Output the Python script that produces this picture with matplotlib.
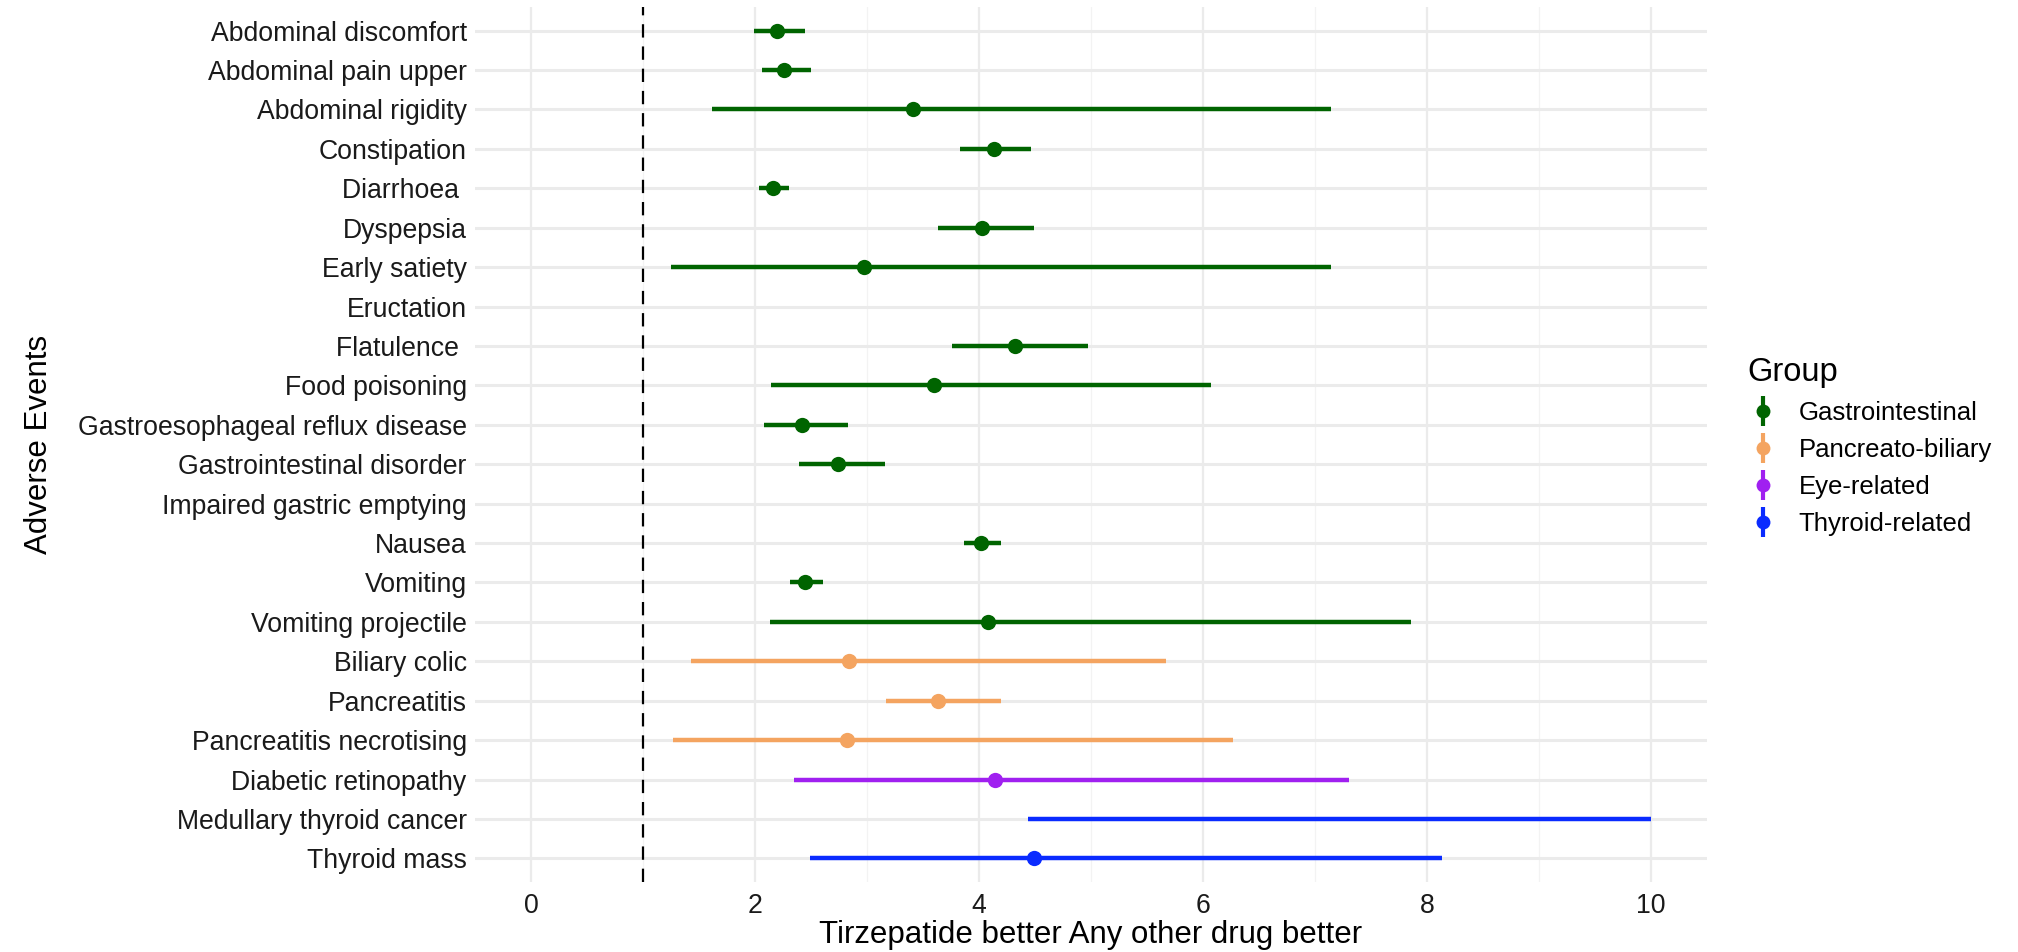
import numpy as np
import matplotlib
matplotlib.use('Agg')
import matplotlib.pyplot as plt
from matplotlib.lines import Line2D

plt.rcParams['font.family'] = ['Liberation Sans', 'DejaVu Sans']

# Data
events = ['Abdominal discomfort', 'Abdominal pain upper', 'Abdominal rigidity',
          'Constipation', 'Diarrhoea ', 'Dyspepsia', 'Early satiety',
          'Eructation', 'Flatulence ', 'Food poisoning',
          'Gastroesophageal reflux disease', 'Gastrointestinal disorder',
          'Impaired gastric emptying', 'Nausea', 'Vomiting',
          'Vomiting projectile', 'Biliary colic', 'Pancreatitis',
          'Pancreatitis necrotising', 'Diabetic retinopathy',
          'Medullary thyroid cancer', 'Thyroid mass']
groups = ['Gastrointestinal'] * 16 + ['Pancreato-biliary'] * 3 + \
         ['Eye-related'] + ['Thyroid-related'] * 2
estimate = [2.20, 2.26, 3.41, 4.13, 2.16, 4.03, 2.97, np.nan, 4.32, 3.60,
            2.42, 2.74, np.nan, 4.02, 2.45, 4.08, 2.84, 3.63, 2.82, 4.14,
            np.nan, 4.49]
lower = [1.99, 2.06, 1.62, 3.83, 2.04, 3.63, 1.25, np.nan, 3.76, 2.14,
         2.08, 2.39, np.nan, 3.87, 2.31, 2.13, 1.43, 3.17, 1.27, 2.35,
         4.44, 2.49]
upper = [2.45, 2.50, 7.14, 4.46, 2.30, 4.49, 7.14, np.nan, 4.97, 6.07,
         2.83, 3.16, np.nan, 4.20, 2.61, 7.86, 5.67, 4.20, 6.27, 7.30,
         10.0, 8.13]

group_order = ['Gastrointestinal', 'Pancreato-biliary', 'Eye-related', 'Thyroid-related']
group_colors = {'Gastrointestinal': '#006400', 'Pancreato-biliary': '#F4A460',
                'Eye-related': '#A020F0', 'Thyroid-related': '#0A2BFF'}

fig = plt.figure(figsize=(20.18, 9.52), dpi=100)
ax = fig.add_axes([475/2018, 1-882/952, (1707-475)/2018, (882-7)/952])

n = len(events)
ypos = np.arange(n)[::-1]

# grid like theme_minimal
for xv in np.arange(0, 11, 2):
    ax.axvline(xv, color='#EBEBEB', lw=1.6, zorder=0)
for xv in np.arange(1, 11, 2):
    ax.axvline(xv, color='#F3F3F3', lw=0.9, zorder=0)
for yv in ypos:
    ax.axhline(yv, color='#EBEBEB', lw=2.2, zorder=0)

ax.axvline(1, color='black', lw=1.6, ls=(0, (6, 4)), zorder=1)

for i in range(n):
    c = group_colors[groups[i]]
    if not np.isnan(lower[i]):
        ax.plot([lower[i], upper[i]], [ypos[i], ypos[i]], color=c, lw=3.2,
                solid_capstyle='butt', zorder=2)
    if not np.isnan(estimate[i]):
        ax.plot(estimate[i], ypos[i], 'o', color=c, markersize=11,
                markeredgewidth=0, zorder=3)

ax.set_xlim(-0.5, 10.5)
ax.set_ylim(-0.6, n - 0.4)
ax.set_xticks(np.arange(0, 11, 2))
ax.set_yticks(ypos)
ax.set_yticklabels(events)
ax.tick_params(axis='both', length=0, labelsize=19.2, colors='#1a1a1a')
ax.tick_params(axis='y', pad=6)
ax.tick_params(axis='x', pad=8)
for s in ax.spines.values():
    s.set_visible(False)

ax.set_xlabel('Tirzepatide better Any other drug better', fontsize=22.5, labelpad=1)
ax.set_ylabel('Adverse Events', fontsize=22.5, labelpad=17)

handles = []
for g in group_order:
    c = group_colors[g]
    h1 = Line2D([], [], color=c, marker='|', markersize=22, mew=3, linestyle='None')
    h2 = Line2D([], [], color=c, marker='o', markersize=10, mew=0, linestyle='None')
    handles.append((h1, h2))
leg = fig.legend(handles, group_order, title='Group', loc='upper left',
                 bbox_to_anchor=(1724/2018, 1-334/952), frameon=False,
                 fontsize=18.5, title_fontsize=23.5, labelspacing=0.5,
                 handlelength=1.2, handletextpad=0.8)
leg._legend_box.align = 'left'

fig.savefig('out.png', dpi=100, facecolor='white')
